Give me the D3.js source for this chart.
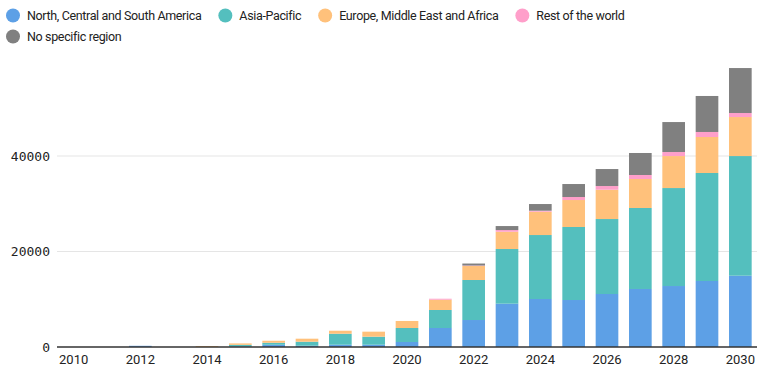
<!DOCTYPE html>
<html><head><meta charset="utf-8">
<script src="https://cdn.jsdelivr.net/npm/d3@7"></script>
<style>body{margin:0;background:#fff;}svg{display:block;}</style>
</head><body><svg id="c" width="771" height="380"></svg>
<script>
const years = d3.range(2010, 2031);
const seriesNames = ["North, Central and South America","Asia-Pacific","Europe, Middle East and Africa","Rest of the world","No specific region"];
const colors = ["#5DA0E6","#54BFBE","#FFC17B","#FF9FCA","#808080"];
const americas = [0,0,250,0,0,100,470,270,480,480,1050,3980,5650,9070,10050,9840,11100,12150,12770,13820,14930];
const asiaPacific = [0,0,0,0,0,350,420,840,2300,1680,2930,3770,8380,11450,13400,15290,15700,16960,20520,22620,25060];
const emea = [0,0,0,0,200,300,420,630,630,1050,1470,2160,2930,3620,4880,5650,6140,6070,6700,7540,8170];
const restOfWorld = [0,0,0,0,0,0,0,0,0,0,0,200,100,350,210,630,770,840,840,1050,840];
const noRegion = [0,0,0,0,0,0,0,0,0,0,0,0,420,840,1400,2720,3560,4610,6280,7540,9420];
const yTicks = [0,20000,40000];
const xTicks = d3.range(2010, 2031, 2);

const svg = d3.select("#c");
const m = {left:57, right:14, top:60.5, bottom:33};
const W = 771, H = 380;
const x = d3.scaleBand().domain(years).range([m.left, W-m.right]).paddingInner(0.32).paddingOuter(0.16);
const y = d3.scaleLinear().domain([0,60000]).range([H-m.bottom, m.top]);

const rows = years.map((yr,i)=>({year:yr, s0:americas[i], s1:asiaPacific[i], s2:emea[i], s3:restOfWorld[i], s4:noRegion[i]}));
const stack = d3.stack().keys(["s0","s1","s2","s3","s4"])(rows);

svg.append("g").selectAll("line").data(yTicks.filter(d=>d>0)).join("line")
  .attr("x1", m.left).attr("x2", W-m.right)
  .attr("y1", d=>y(d)).attr("y2", d=>y(d))
  .attr("stroke","#e5e5e5").attr("stroke-width",1);

const ya = svg.append("g").attr("transform",`translate(${m.left},0)`)
  .call(d3.axisLeft(y).tickValues(yTicks).tickSize(0).tickPadding(7).tickFormat(d3.format("d")));
ya.select(".domain").remove();
ya.selectAll("text").attr("font-family","'DejaVu Sans Mono', monospace").attr("font-size",13).attr("fill","#222");

svg.append("g").selectAll("g").data(stack).join("g").attr("fill",(d,i)=>colors[i])
  .selectAll("rect").data(d=>d).join("rect")
  .attr("x", d=>x(d.data.year)).attr("width", x.bandwidth())
  .attr("y", d=>y(d[1])).attr("height", d=>Math.max(0, y(d[0])-y(d[1])));

const xa = svg.append("g").attr("transform",`translate(0,${H-m.bottom})`)
  .call(d3.axisBottom(x).tickValues(xTicks).tickSize(0).tickPadding(8).tickSizeOuter(0));
xa.select(".domain").attr("stroke","#333").attr("stroke-width",1.5)
  .attr("d", `M${m.left},0H${W-m.right}`);
xa.selectAll("text").attr("font-family","Roboto, sans-serif").attr("font-size",13).attr("fill","#222");

const lg = svg.append("g");
let lx = 6, ly = 15.5;
seriesNames.forEach((name,i)=>{
  const g = lg.append("g");
  g.append("circle").attr("r",7).attr("fill",colors[i]);
  const t = g.append("text").attr("x",14).attr("dy","0.35em").attr("font-family","Roboto, sans-serif")
    .attr("font-size",12.5).attr("letter-spacing",-0.35).attr("fill","#222").text(name);
  const w = 14 + t.node().getComputedTextLength();
  if (lx + w > 660) { lx = 6; ly += 21; }
  g.attr("transform",`translate(${lx+7},${ly})`);
  lx += w + 24;
});
</script></body></html>
